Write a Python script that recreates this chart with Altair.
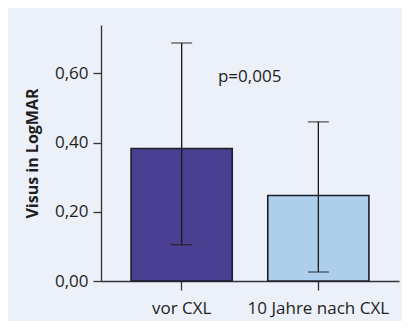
import altair as alt
import pandas as pd

categories = ["vor CXL", "10 Jahre nach CXL"]
means = [0.383, 0.247]
err_low = [0.105, 0.026]
err_high = [0.688, 0.460]
colors = ["#4B3F91", "#AECFEC"]
y_ticks = [0.0, 0.2, 0.4, 0.6]
p_label = "p=0,005"
p_y = 0.59

df = pd.DataFrame({"cat": categories, "mean": means, "lo": err_low, "hi": err_high, "col": colors})

FONT = "Open Sans"
FS = 17
x_enc = alt.X("cat:N", sort=categories,
              scale=alt.Scale(paddingInner=0.26, paddingOuter=0.22),
              axis=alt.Axis(title=None, labelAngle=0, tickSize=9, labelPadding=10,
                            labelFontSize=FS, labelColor="#1e1e1e", labelFont=FONT,
                            domainColor="#333", tickColor="#333", domainWidth=1.3, tickWidth=1.3))
y_scale = alt.Scale(domain=[0, 0.74], nice=False, zero=True)
y_axis = alt.Axis(title="Visus in LogMAR", values=y_ticks, grid=False, tickSize=8,
                  labelExpr="replace(format(datum.value, '.2f'), '.', ',')",
                  labelFontSize=FS, labelColor="#1e1e1e", labelFont=FONT, labelPadding=5,
                  titleFont=FONT, titleFontSize=16, titleFontWeight="bold", titleColor="#1e1e1e",
                  titlePadding=14, domainColor="#333", tickColor="#333", domainWidth=1.3, tickWidth=1.3)

base = alt.Chart(df)
bars = base.mark_bar(stroke="#1e1e2a", strokeWidth=1.6).encode(
    x=x_enc,
    y=alt.Y("mean:Q", scale=y_scale, axis=y_axis),
    color=alt.Color("col:N", scale=None, legend=None),
)
rule = base.mark_rule(color="#1a1a1a", strokeWidth=1.3).encode(
    x=alt.X("cat:N", sort=categories), y="lo:Q", y2="hi:Q")
cap_lo = base.mark_tick(color="#1a1a1a", thickness=1.3, size=21, orient="horizontal").encode(
    x=alt.X("cat:N", sort=categories), y="lo:Q")
cap_hi = base.mark_tick(color="#1a1a1a", thickness=1.3, size=21, orient="horizontal").encode(
    x=alt.X("cat:N", sort=categories), y="hi:Q")
ptext = alt.Chart(pd.DataFrame({"t": [p_label], "y": [p_y], "cat": [categories[0]]})).mark_text(
    font=FONT, fontSize=FS, color="#1e1e1e", dx=68).encode(
    x=alt.X("cat:N", sort=categories), y="y:Q", text="t:N")

chart = alt.layer(bars, rule, cap_lo, cap_hi, ptext).properties(
    width=298, height=256,
    padding={"left": 16, "top": 17, "right": 3, "bottom": 5},
    background="#ECF0F9",
).configure_view(stroke=None)

chart.save("out.html", embed_options={"renderer": "svg", "actions": False})
